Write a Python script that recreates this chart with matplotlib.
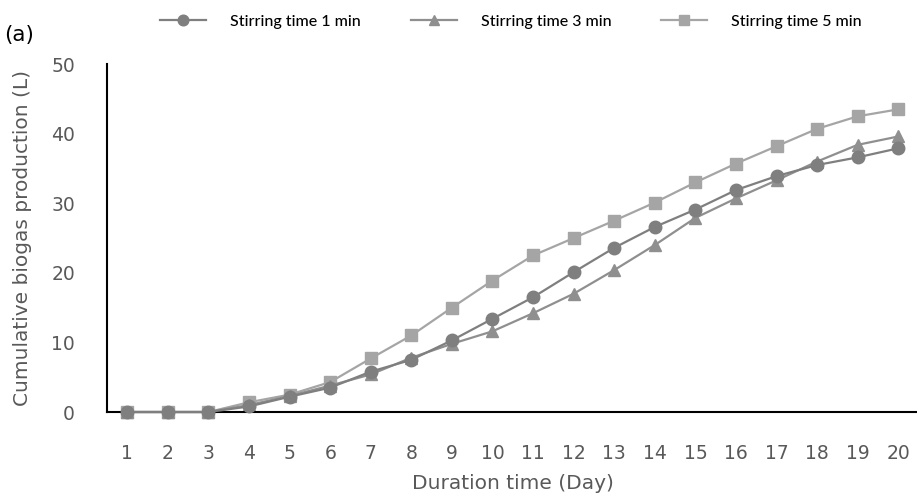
import matplotlib.pyplot as plt

days = list(range(1, 21))
stir_1min = [0, 0, 0, 0.8, 2.2, 3.5, 5.8, 7.5, 10.3, 13.4, 16.5, 20.1, 23.6, 26.6, 29.1, 31.9, 33.9, 35.5, 36.6, 37.9]
stir_3min = [0, 0, 0, 1.0, 2.3, 3.8, 5.4, 7.8, 9.8, 11.6, 14.2, 17.0, 20.4, 24.0, 27.9, 30.7, 33.3, 36.0, 38.4, 39.6]
stir_5min = [0, 0, 0, 1.4, 2.5, 4.3, 7.7, 11.0, 15.0, 18.9, 22.5, 25.0, 27.5, 30.1, 33.0, 35.7, 38.2, 40.7, 42.5, 43.5]
labels = ["Stirring time 1 min", "Stirring time 3 min", "Stirring time 5 min"]

fig = plt.figure(figsize=(9.17, 4.97), dpi=100)
# axes box: left spine ~107px, bottom ~412px, top (50) ~64px
ax = fig.add_axes([0.1167, 0.171, 0.885, 0.700])

ax.plot(days, stir_1min, color="#7f7f7f", marker="o", ms=9, lw=1.6, label=labels[0], zorder=3)
ax.plot(days, stir_3min, color="#8f8f8f", marker="^", ms=9, lw=1.6, label=labels[1], zorder=2)
ax.plot(days, stir_5min, color="#a5a5a5", marker="s", ms=9, lw=1.6, label=labels[2], zorder=1)

ax.set_xlim(0.5, 20.5)
ax.set_ylim(0, 50)
ax.set_xticks(days)
ax.set_yticks(range(0, 51, 10))
ax.tick_params(length=0, labelsize=13.5, colors="#595959")
ax.tick_params(axis="x", pad=23)
ax.tick_params(axis="y", pad=23)
ax.spines["top"].set_visible(False)
ax.spines["right"].set_visible(False)
ax.spines["left"].set_linewidth(1.5)
ax.spines["bottom"].set_linewidth(1.5)

ax.set_xlabel("Duration time (Day)", fontsize=14.5, color="#595959", labelpad=8)
ax.set_ylabel("Cumulative biogas production (L)", fontsize=14.5, color="#595959", labelpad=14)

for ln in ax.get_lines():
    ln.set_clip_on(False)

fig.text(0.005, 1 - 35 / 497, "(a)", fontsize=15.5, color="black", va="center")
fig.legend(loc="center left", bbox_to_anchor=(0.1745, 1 - 22 / 497), ncol=3, frameon=False,
           prop={"family": "Lato", "size": 11.5, "weight": "medium"}, handlelength=2.9,
           handletextpad=1.5, columnspacing=3.1, borderpad=0, borderaxespad=0,
           markerscale=0.85)

plt.savefig("out.png", dpi=100)
